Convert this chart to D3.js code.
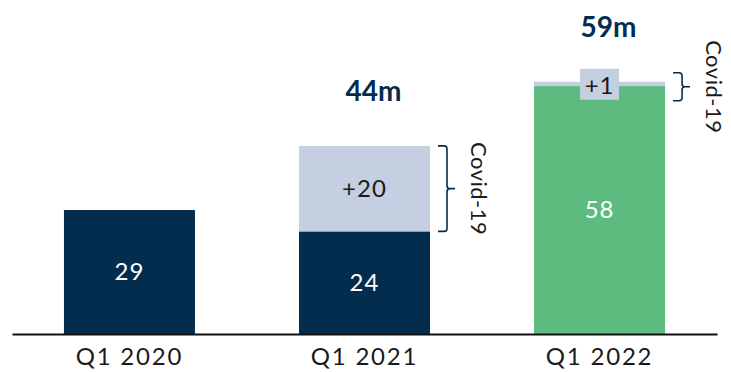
<!DOCTYPE html>
<html>
<head>
<meta charset="utf-8">
<script src="https://cdn.jsdelivr.net/npm/d3@7"></script>
<style>
  html, body { margin: 0; padding: 0; background: #fff; }
  svg { display: block; font-family: "Lato", "Open Sans", sans-serif; }
</style>
</head>
<body>
<svg id="chart" width="731" height="372"></svg>
<script>
const categories = ["Q1 2020", "Q1 2021", "Q1 2022"];
const baseValues = [29, 24, 58];
const covidValues = [0, 20, 1];
const baseLabels = ["29", "24", "58"];
const covidLabels = ["", "+20", "+1"];
const totalLabels = ["", "44m", "59m"];
const bracketLabel = "Covid-19";

const navy = "#032d4f", light = "#c4cfe1", green = "#5dbb7f";
const baseColors = [navy, navy, green];

const svg = d3.select("#chart");
const x = d3.scaleBand().domain(categories).range([12, 717])
  .paddingInner(0.4426).paddingOuter(0.221);
const y = d3.scaleLinear().domain([0, 60]).range([334, 334 - 60 * 4.275]);

const data = categories.map((c, i) => ({
  c, base: baseValues[i], covid: covidValues[i],
  bl: baseLabels[i], cl: covidLabels[i], tl: totalLabels[i], col: baseColors[i]
}));

// base bars
svg.selectAll("rect.base").data(data).join("rect").attr("class", "base")
  .attr("x", d => x(d.c)).attr("width", x.bandwidth())
  .attr("y", d => y(d.base)).attr("height", d => y(0) - y(d.base))
  .attr("fill", d => d.col);

// covid bars
svg.selectAll("rect.covid").data(data.filter(d => d.covid > 0)).join("rect").attr("class", "covid")
  .attr("x", d => x(d.c)).attr("width", x.bandwidth())
  .attr("y", d => y(d.base + d.covid)).attr("height", d => y(d.base) - y(d.base + d.covid))
  .attr("fill", light);

// base labels
svg.selectAll("text.bl").data(data).join("text").attr("class", "bl")
  .attr("x", d => x(d.c) + x.bandwidth() / 2)
  .attr("y", d => (y(d.base) + y(0)) / 2)
  .attr("dy", "0.35em").attr("text-anchor", "middle")
  .attr("font-size", 24).attr("letter-spacing", 1).attr("fill", "#fff").text(d => d.bl);

// covid labels + brackets
data.filter(d => d.covid > 0).forEach(d => {
  const cx = x(d.c) + x.bandwidth() / 2;
  const segTop = y(d.base + d.covid), segBot = y(d.base);
  let top = segTop, bot = segBot;
  if (segBot - segTop > 30) {
    svg.append("text").attr("x", cx).attr("y", (segTop + segBot) / 2)
      .attr("dy", "0.35em").attr("text-anchor", "middle").attr("font-size", 24)
      .attr("letter-spacing", 1).attr("fill", "#1a1a1a").text(d.cl);
  } else {
    const cy = segTop + 4;
    const g = svg.append("g");
    g.append("rect").attr("fill", light)
      .attr("x", cx - 19.5).attr("width", 39).attr("y", cy - 17).attr("height", 31);
    g.append("text").attr("x", cx).attr("y", cy).attr("dy", "0.35em")
      .attr("text-anchor", "middle").attr("font-size", 24).attr("letter-spacing", 1)
      .attr("fill", "#1a1a1a").text(d.cl);
    top = cy - 13; bot = cy + 15;
  }
  const bx = x(d.c) + x.bandwidth() + 8;
  const mid = (top + bot) / 2;
  const w = 9, tip = 8, r2 = 3;
  const p = d3.path();
  p.moveTo(bx, top);
  p.lineTo(bx + w - r2, top);
  p.quadraticCurveTo(bx + w, top, bx + w, top + r2);
  p.lineTo(bx + w, mid - r2);
  p.quadraticCurveTo(bx + w, mid, bx + w + r2, mid);
  p.lineTo(bx + w + tip, mid);
  p.moveTo(bx + w + r2, mid);
  p.quadraticCurveTo(bx + w, mid, bx + w, mid + r2);
  p.lineTo(bx + w, bot - r2);
  p.quadraticCurveTo(bx + w, bot, bx + w - r2, bot);
  p.lineTo(bx, bot);
  svg.append("path").attr("d", p.toString()).attr("fill", "none")
    .attr("stroke", navy).attr("stroke-width", 1.6);
  const tx = bx + w + tip + 24;
  svg.append("text").attr("transform", `translate(${tx},${mid}) rotate(90)`)
    .attr("text-anchor", "middle").attr("dy", "0.35em").attr("font-size", 22)
    .attr("letter-spacing", 0.5).attr("fill", "#1a1a1a").text(bracketLabel);
});

// total labels
svg.selectAll("text.tl").data(data.filter(d => d.tl)).join("text").attr("class", "tl")
  .attr("x", d => x(d.c) + x.bandwidth() / 2 + 9)
  .attr("y", d => y(d.base + d.covid) - 55)
  .attr("dy", "0.35em").attr("text-anchor", "middle")
  .attr("font-size", 28).attr("font-weight", "bold").attr("fill", navy).text(d => d.tl);

// axis
const ax = svg.append("g").attr("transform", `translate(0,${y(0)})`)
  .call(d3.axisBottom(x).tickSize(0).tickSizeOuter(0).tickPadding(14));
ax.select(".domain").attr("stroke", "#111").attr("stroke-width", 2.2);
ax.selectAll(".tick text").attr("font-size", 24).attr("letter-spacing", 1.8)
  .attr("fill", "#1a1a1a").attr("font-family", "Lato, 'Open Sans', sans-serif");
</script>
</body>
</html>
